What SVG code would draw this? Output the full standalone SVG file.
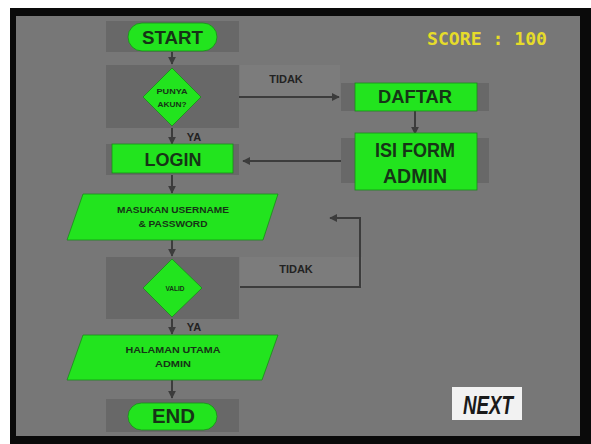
<svg xmlns="http://www.w3.org/2000/svg" width="591" height="444" viewBox="0 0 591 444">
<defs>
<style>
.bk{fill:#686868}
.gr{fill:#22e41e;stroke:#1a8a1a;stroke-width:0.8}
.t{font-family:"Liberation Sans",Arial,sans-serif;font-weight:bold;fill:#163416;text-anchor:middle}
.lbl{font-family:"Liberation Sans",Arial,sans-serif;font-weight:bold;fill:#222;text-anchor:middle}
.c{stroke:#3c3c3c;stroke-width:2;fill:none}
</style>
<marker id="ah" viewBox="0 0 10 10" refX="9" refY="5" markerWidth="4" markerHeight="4" orient="auto">
<path d="M0,0 L10,5 L0,10 z" fill="#3c3c3c"/>
</marker>
</defs>
<rect x="0" y="0" width="591" height="444" fill="#ffffff"/>
<rect x="10" y="8" width="581" height="436" fill="#0a0a0a"/>
<rect x="16" y="16" width="564" height="420" fill="#777777"/>
<rect x="240" y="65" width="100" height="32" fill="#7c7c7c"/>
<rect x="240" y="257" width="122" height="30" fill="#7c7c7c"/>

<g id="score"><text x="487" y="45" font-family="DejaVu Sans Mono,monospace" font-weight="bold" font-size="18" fill="#e6dc2a" text-anchor="middle" textLength="120" lengthAdjust="spacingAndGlyphs">SCORE : 100</text></g>

<g id="connectors">
<line class="c" x1="172" y1="52" x2="172" y2="64" marker-end="url(#ah)"/>
<line class="c" x1="172" y1="128" x2="172" y2="144" marker-end="url(#ah)"/>
<line class="c" x1="172" y1="175" x2="172" y2="193" marker-end="url(#ah)"/>
<line class="c" x1="172" y1="240" x2="172" y2="256" marker-end="url(#ah)"/>
<line class="c" x1="172" y1="319" x2="172" y2="334" marker-end="url(#ah)"/>
<line class="c" x1="172" y1="380" x2="172" y2="398" marker-end="url(#ah)"/>
<line class="c" x1="239" y1="97" x2="339" y2="97" marker-end="url(#ah)"/>
<line class="c" x1="415" y1="111" x2="415" y2="134" marker-end="url(#ah)"/>
<line class="c" x1="341" y1="161" x2="243" y2="161" marker-end="url(#ah)"/>
<polyline class="c" points="240,287 360,287 360,218 330,218" marker-end="url(#ah)"/>
<text class="lbl" x="286" y="83" font-size="11">TIDAK</text>
<text class="lbl" x="194" y="141" font-size="11">YA</text>
<text class="lbl" x="296" y="273" font-size="11">TIDAK</text>
<text class="lbl" x="194" y="331" font-size="11">YA</text>
</g>

<g id="start">
<rect class="bk" x="106" y="21" width="133" height="31"/>
<rect class="gr" x="128" y="23" width="89" height="28" rx="14"/>
<text class="t" x="172.5" y="44" font-size="19" textLength="61" lengthAdjust="spacingAndGlyphs">START</text>
</g>

<g id="punya-akun">
<rect class="bk" x="106" y="65" width="133" height="63"/>
<polygon class="gr" points="172,68 201,97 172,126 143,97"/>
<text class="t" x="172" y="94" font-size="7.5" textLength="31" lengthAdjust="spacingAndGlyphs">PUNYA</text>
<text class="t" x="172" y="107" font-size="7.5" textLength="29" lengthAdjust="spacingAndGlyphs">AKUN?</text>
</g>

<g id="login">
<rect class="bk" x="106" y="144" width="133" height="31"/>
<rect class="gr" x="112" y="144" width="121" height="29"/>
<text class="t" x="173" y="166" font-size="18" textLength="57" lengthAdjust="spacingAndGlyphs">LOGIN</text>
</g>

<g id="masukan">
<polygon class="gr" points="83,194 278,194 263,240 67,240"/>
<text class="t" x="173" y="213" font-size="8.5" textLength="112" lengthAdjust="spacingAndGlyphs">MASUKAN USERNAME</text>
<text class="t" x="173" y="227" font-size="8.5" textLength="69" lengthAdjust="spacingAndGlyphs">&amp; PASSWORD</text>
</g>

<g id="valid">
<rect class="bk" x="106" y="257" width="133" height="62"/>
<polygon class="gr" points="172,259 202,288 172,317 143,288"/>
<text class="t" x="175" y="291" font-size="7" textLength="19" lengthAdjust="spacingAndGlyphs">VALID</text>
</g>

<g id="halaman">
<polygon class="gr" points="83,335 278,335 262,380 67,380"/>
<text class="t" x="173" y="353" font-size="8.5" textLength="95" lengthAdjust="spacingAndGlyphs">HALAMAN UTAMA</text>
<text class="t" x="173" y="367" font-size="8.5" textLength="36" lengthAdjust="spacingAndGlyphs">ADMIN</text>
</g>

<g id="end">
<rect class="bk" x="106" y="399" width="133" height="33"/>
<rect class="gr" x="128" y="403" width="89" height="27" rx="13.5"/>
<text class="t" x="173.5" y="423" font-size="20" textLength="43" lengthAdjust="spacingAndGlyphs">END</text>
</g>

<g id="daftar">
<rect class="bk" x="341" y="83" width="148" height="28"/>
<rect class="gr" x="355" y="83" width="122" height="28"/>
<text class="t" x="415" y="103" font-size="18" textLength="74" lengthAdjust="spacingAndGlyphs">DAFTAR</text>
</g>

<g id="isi-form">
<rect class="bk" x="341" y="138" width="148" height="45"/>
<rect class="gr" x="355" y="133" width="122" height="57"/>
<text class="t" x="415" y="157" font-size="20" textLength="80" lengthAdjust="spacingAndGlyphs">ISI FORM</text>
<text class="t" x="415" y="183" font-size="20" textLength="64" lengthAdjust="spacingAndGlyphs">ADMIN</text>
</g>

<g id="next">
<rect x="452" y="387" width="70" height="33" fill="#f2f2f2"/>
<text x="488" y="414" font-family="Liberation Sans,Arial,sans-serif" font-weight="bold" font-style="italic" font-size="25" fill="#1a1a1a" text-anchor="middle" textLength="50" lengthAdjust="spacingAndGlyphs">NEXT</text>
</g>
</svg>
